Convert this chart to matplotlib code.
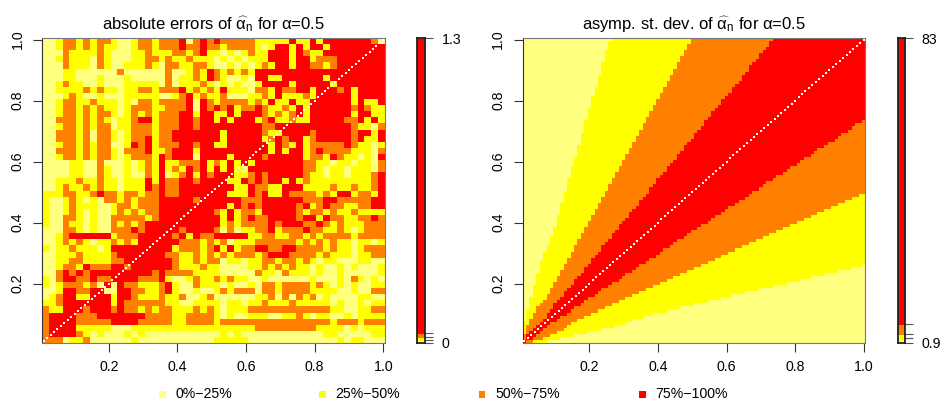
#!/usr/bin/env python3
"""Two heatmaps of alpha estimates, coloured by quartile class, with value bars."""

import numpy as np
import matplotlib
matplotlib.use("Agg")
import matplotlib.pyplot as plt
from matplotlib.colors import BoundaryNorm, ListedColormap
from matplotlib.patches import Rectangle

plt.rcParams['font.family'] = ['Liberation Sans', 'DejaVu Sans']
plt.rcParams['mathtext.fontset'] = 'custom'
plt.rcParams['mathtext.rm'] = 'Liberation Sans'
plt.rcParams['mathtext.it'] = 'Liberation Sans:italic'
plt.rcParams['axes.unicode_minus'] = True

# class of each 2x2 block, top row first: 1 = 0-25%, 2 = 25-50%, 3 = 50-75%, 4 = 75-100%
errors_left_top = [
    "1123323233211233233341343", "1123323232211233233343343", "1113222232111223222332342",
    "1123222132111223323223222", "1113222132112223213322332", "1112211111131111113112324",
    "1112211121112111113122324", "1123221121112222213122232", "1122223232212233233342323",
    "1112321121112222211234232", "1123322322212133233334143", "1123323232212333223334143",
    "1123323233212323233344244", "1133323232122344233344344", "1123323233122333233344344",
    "1133323133212333233444444", "1133323133212334233444444", "1123323233112434233344344",
    "1133323233213334223444244", "1123323233212333243444144", "1111221131112123242233342",
    "1111221132112123242324342", "1111221132112113241234243", "1122232232212224243344344",
    "1123223232212224343344444",
]
errors_right_top = [
    "4333332222242242444444431", "3233332124424244244444444", "2121232244424322444444444",
    "1212122244424423334444444", "1121212324424433234444444", "3232324444444444444444444",
    "3211214422444444244444444", "1212112444424444424444444", "2422213324334424443424444",
    "2311122324222324444424444", "2333323242242244444424224", "4342334322324244444434322",
    "2242444323234244444424422", "2424442342232244444334242", "4444444334444444444432213",
    "4244444322444434444434424", "4244444234344234444434224", "2244444424324233333432212",
    "4444444424244234333322213", "4424444344444233243221214", "3242424444444332212212213",
    "4242144444444332122122213", "4442234344444322122122234", "4422434344242322222222234",
    "4442243322444222232232234",
]
errors_left_bottom = [
    "2223322343323323343344444", "2112321213323233344444344", "2112322211233233344444444",
    "2112321211232323344444444", "2113321211333332344444444", "2113221211323234444444444",
    "1113321211333434444434444", "1123444444233344444342433", "1123232122323244444433323",
    "2122322212444444444233323", "1122232222344444443322323", "1122332222334444444322323",
    "1123324333443444444322232", "1134343444444444343333222", "2134433433444433342112322",
    "2123332314143322234211322", "1124433441144332234211211", "1234422444244322232231123",
    "2234444444243333332211222", "3224443444343323233222323", "3444433344444443333223333",
    "3444433333444433333223333", "3444422222111222222222222", "3444432121112121111111111",
    "3331223111111211111111111",
]
errors_right_bottom = [
    "4422243422433332324423324", "4444333444444333443333344", "4424343444443423433223344",
    "3242332444443233232232222", "4242343344443442433223343", "4232333343444334323222333",
    "3131223342333433223212333", "4444422332233232333323333", "2312223333332323232212212",
    "4242334433443333232212333", "2323332344433332322212233", "3122122332332321221112211",
    "2111122323232212112121112", "2111113221322212112111112", "3232211211111121112132121",
    "2121121332333323212121122", "2323331332333322221121133", "1111112231313231211112211",
    "2122122322232222212112122", "2122233333333333322112233", "2121122211223212211212222",
    "2333333333333333323332333", "2222223333333332222121222", "1212111111111111221111122",
    "2222211111111111112122111",
]

# right panel, below the diagonal: rows of each class counted up from the bottom, per column
light_top = [0,0,0,0,0,0,0,1,1,1,1,2,2,2,2,3,3,3,3,4,4,4,4,5,5,5,5,6,6,6,
             7,7,8,8,8,9,9,9,10,10,10,10,11,11,11,11,12,12,12,12,13,13,13,13,14,14,14,14,15,15,
             15,16,16,16,16,17,17,17,17,18,18,18,18,19,19,19,19,20,20,20,20,21,21,21,22,22,22,22,23,23,
             23,23,24,24,24,24,25,25,25,26]
yellow_top = [0,0,0,1,1,1,2,2,3,3,4,4,5,6,7,7,8,8,9,9,10,10,11,11,12,12,13,13,14,14,
              15,15,16,16,17,17,18,18,19,19,20,20,21,21,22,22,23,23,24,24,25,25,26,26,27,27,28,28,29,29,
              30,30,31,31,32,32,33,33,34,34,35,35,36,36,37,37,38,38,39,39,40,40,41,41,42,42,43,43,44,44,
              45,45,46,46,47,47,48,48,49,49]
orange_top = [0,1,1,2,3,4,5,6,7,7,8,9,9,10,11,12,12,13,14,15,15,16,17,18,18,19,20,20,21,22,
              23,23,24,25,26,26,27,28,28,29,30,31,31,32,33,34,34,35,36,37,37,38,39,39,40,41,42,42,43,44,
              45,45,46,47,47,48,49,50,50,51,52,53,53,54,55,55,56,57,58,58,59,60,61,61,62,63,64,64,65,66,
              66,67,68,69,69,70,71,72,72,73]

heat_colors = ['#FFFF80', '#FFFF00', '#FF8000', '#FF0000']
legend_labels = ['0%\u221225%', '25%\u221250%', '50%\u221275%', '75%\u2212100%']
tick_values = [0.2, 0.4, 0.6, 0.8, 1.0]

# value bars: class edges and the small ticks beside them
errors_breaks = [0, 0.0085, 0.02, 0.04, 1.3]
errors_ticks = [0, 0.0145, 0.0256, 0.0426, 1.3]
errors_labels = ['0', '', '', '', '1.3']
sd_breaks = [0.9, 1.44, 2.97, 5.66, 83]
sd_ticks = [0.9, 2.35, 3.4, 6.0, 83]
sd_labels = ['0.9', '', '', '', '83']

W, H = 941, 400
cmap = ListedColormap(heat_colors)
norm = BoundaryNorm([0.5, 1.5, 2.5, 3.5, 4.5], 4)
edges = np.arange(0.005, 1.0051, 0.01)
centers = (edges[:-1] + edges[1:]) / 2


def px_axes(fig, x0, x1, y0, y1):
    return fig.add_axes([x0 / W, 1 - y1 / H, (x1 - x0) / W, (y1 - y0) / H])


def errors_grid():
    top = [a + b for a, b in zip(errors_left_top, errors_right_top)]
    bottom = [a + b for a, b in zip(errors_left_bottom, errors_right_bottom)]
    blocks = np.array([[int(c) for c in row] for row in top + bottom], dtype=float)
    return np.repeat(np.repeat(blocks[::-1], 2, axis=0), 2, axis=1)


def sd_grid():
    grid = np.full((100, 100), 4.0)
    for i in range(1, 100):
        for j in range(i):
            if j < light_top[i]:
                cls = 1
            elif j < yellow_top[i]:
                cls = 2
            elif j < orange_top[i]:
                cls = 3
            else:
                cls = 4
            grid[j, i] = grid[i, j] = cls
    return grid


def heat_panel(ax, grid, title):
    ax.pcolormesh(edges, edges, grid, cmap=cmap, norm=norm)
    # the diagonal has no estimate, it shows as a row of white dots
    ax.scatter(centers, centers, marker='s', s=3.4, color='white', linewidths=0, zorder=3)
    ax.set_xlim(edges[0], edges[-1])
    ax.set_ylim(edges[0], edges[-1])
    ax.set_xticks(tick_values, [f'{v:.1f}' for v in tick_values])
    ax.set_yticks(tick_values, [f'{v:.1f}' for v in tick_values])
    ax.tick_params(axis='both', length=6.5, width=0.8, color='#333333', labelsize=10.2, pad=6)
    ax.tick_params(axis='y', labelrotation=90)
    for lab in ax.get_yticklabels():
        lab.set_va('center')
    for name in ax.spines:
        ax.spines[name].set_linewidth(0.8)
        ax.spines[name].set_color('#777777')
    ax.spines['left'].set_color('#333333')
    ax.set_title(title, fontsize=12, pad=6)


def value_bar(ax, breaks, ticks, labels):
    for low, high, color in zip(breaks[:-1], breaks[1:], heat_colors):
        ax.bar(0.5, high - low, width=1, bottom=low, color=color, linewidth=0)
    ax.set_xlim(0, 1)
    ax.set_ylim(breaks[0], breaks[-1])
    ax.set_xticks([])
    ax.yaxis.tick_right()
    ax.set_yticks(ticks, labels)
    ax.tick_params(axis='y', length=6, width=0.8, color='#555555', labelsize=10.2, pad=6)
    for name in ax.spines:
        ax.spines[name].set_linewidth(1.3)
        ax.spines[name].set_color('#222222')


fig = plt.figure(figsize=(W / 100, H / 100), dpi=100)

ax1 = px_axes(fig, 42, 385, 38, 343)
heat_panel(ax1, errors_grid(), r'absolute errors of $\widehat{\mathrm{\alpha}}_{\mathrm{n}}$ for $\mathrm{\alpha}$=0.5')
ax2 = px_axes(fig, 522.5, 865.5, 38, 343)
heat_panel(ax2, sd_grid(), r'asymp. st. dev. of $\widehat{\mathrm{\alpha}}_{\mathrm{n}}$ for $\mathrm{\alpha}$=0.5')

value_bar(px_axes(fig, 416.5, 425, 38, 343), errors_breaks, errors_ticks, errors_labels)
value_bar(px_axes(fig, 897.5, 905, 38, 343), sd_breaks, sd_ticks, sd_labels)

# legend row along the bottom
for k, (label, color) in enumerate(zip(legend_labels, heat_colors)):
    x = 158.5 + 160 * k
    fig.add_artist(Rectangle((x / W, 1 - 398 / H), 7 / W, 7.5 / H, transform=fig.transFigure,
                             facecolor=color, linewidth=0))
    fig.text((x + 16.5) / W, 1 - 394.5 / H, label, fontsize=10.2, va='center', ha='left')

fig.savefig('out.png', dpi=100)
plt.close(fig)
